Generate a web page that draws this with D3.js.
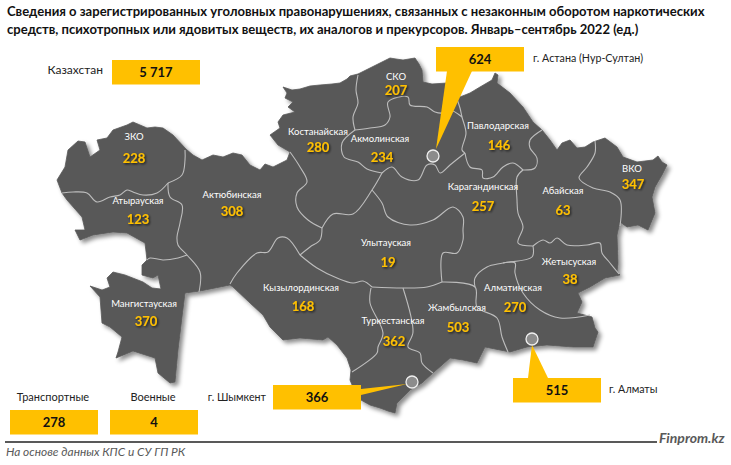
<!DOCTYPE html>
<html><head><meta charset="utf-8">
<script src="https://cdn.jsdelivr.net/npm/d3@7/dist/d3.min.js"></script>
<style>
html,body{margin:0;padding:0;background:#fff}
svg{display:block}
text{font-family:Lato,"Open Sans","Noto Sans",sans-serif}
</style></head><body><svg id="c" width="731" height="465"></svg>
<script>
const titleLines=["Сведения о зарегистрированных уголовных правонарушениях, связанных с незаконным оборотом наркотических","средств, психотропных или ядовитых веществ, их аналогов и прекурсоров. Январь–сентябрь 2022 (ед.)"];
const regionNames=["ЗКО","Атырауская","Актюбинская","Костанайская","СКО","Акмолинская","Павлодарская","Карагандинская","Абайская","ВКО","Жетысуская","Алматинская","Жамбылская","Туркестанская","Улытауская","Кызылординская","Мангистауская"];
const regionValues=[228,123,308,280,207,234,146,257,63,347,38,270,503,362,19,168,370];
const nameAnchors=[[134,137],[138,201],[232,195],[318,132],[396,77],[380,139],[498,126],[483,187],[563,191],[632,169],[569,262],[513,288],[457,308],[393,321],[386,243],[301,288],[144,304]];
const valueAnchors=[[134,158],[138,219],[232,211],[318,147],[396,90],[382,157],[499,145],[483,206],[563,210],[633,184],[570,279],[515,307],[458,327],[394,341],[388,262],[303,306],[146,321]];
const boxNames=["Казахстан","г. Астана (Нур-Султан)","г. Шымкент","г. Алматы","Транспортные","Военные"];
const boxValues=["5 717","624","366","515","278","4"];
const boxOrigins=[[112,60],[436,47],[273,385],[513,378],[10,410],[110,410]];
const boxLabelAnchors=[[103,70,"end"],[533,58,"start"],[266,397,"end"],[609,389,"start"],[53,397,"middle"],[153,397,"middle"]];
const boxLabelSizes=[12,10.7,10.7,10.7,11,11];
const cityPoints=[[433,156],[412,382],[532,339]];
const pointers=[[[447,71],[472,71],[436,149]],[[361,389],[361,395],[407,384]],[[528,378],[548,378],[532,345]]];
const outline=[[283,87],[292,90],[300,89],[310,86],[320,85],[332,84],[340,83],[347,79],[350,76],[358,74],[368,69],[380,63],[390,58],[396,59],[403,60],[415,58],[419,64],[422,70],[423,82],[432,84],[447,83],[452,90],[460,97],[470,93],[480,87],[492,80],[495,73],[498,75],[497,83],[510,93],[523,107],[533,122],[542,130],[550,140],[557,150],[562,143],[570,140],[577,148],[585,147],[593,142],[605,138],[617,147],[623,157],[637,162],[653,160],[658,156],[662,162],[667,165],[662,175],[655,187],[652,197],[655,213],[648,230],[638,225],[627,227],[620,222],[617,235],[618,263],[617,272],[620,275],[605,278],[590,287],[578,293],[582,302],[577,313],[592,317],[595,328],[598,332],[593,347],[573,347],[547,345],[527,347],[510,352],[500,350],[485,347],[477,363],[463,360],[450,358],[433,373],[422,383],[410,390],[397,403],[395,413],[388,411],[380,408],[370,405],[361,400],[355,392],[350,380],[351,370],[347,358],[337,345],[328,337],[323,340],[300,338],[283,340],[270,327],[263,315],[250,303],[233,287],[230,285],[200,291],[185,293],[182,317],[178,350],[175,382],[170,383],[158,373],[155,358],[133,351],[116,358],[118,352],[122,337],[110,327],[102,323],[100,297],[90,286],[102,290],[110,287],[107,278],[113,272],[125,275],[143,282],[152,288],[161,289],[158,275],[153,278],[142,275],[142,265],[147,260],[145,243],[127,233],[113,232],[93,235],[80,240],[75,230],[85,230],[82,217],[67,200],[62,193],[57,180],[65,167],[68,150],[78,141],[85,142],[90,157],[100,150],[97,140],[107,138],[113,130],[127,125],[133,122],[147,128],[155,127],[163,128],[173,135],[186,149],[193,155],[202,160],[213,155],[223,157],[233,153],[242,155],[250,165],[260,170],[265,164],[273,167],[287,160],[290,152],[278,145],[270,135],[280,128],[278,122],[283,115],[295,112],[288,107],[293,102],[285,98],[287,93]];
const borders=[
[[62,193],[73,192],[87,193],[97,202],[110,197],[120,195],[127,190],[133,192],[143,195],[157,193],[168,183]],
[[168,183],[182,175],[185,160],[185,150]],
[[168,183],[170,197],[182,205],[180,223],[177,237],[178,245],[187,255],[200,272],[199,292]],
[[147,260],[150,258],[163,260],[178,258],[187,255]],
[[230,284],[237,273],[257,253],[268,252],[278,238],[287,238],[300,255]],
[[300,255],[310,247],[320,240],[322,228]],
[[300,255],[317,268],[337,278],[353,283],[363,281],[372,287]],
[[372,287],[403,288],[427,287],[442,282]],
[[442,282],[443,253],[457,253],[463,240],[463,230],[463,217],[453,207],[433,220],[410,225],[388,217],[382,203],[372,190]],
[[442,282],[475,287],[477,307],[497,318],[502,337],[508,352]],
[[475,287],[475,278],[487,267],[503,263],[532,257],[533,246]],
[[503,263],[515,263],[515,273],[523,293],[540,310],[560,318],[590,315]],
[[533,246],[543,240],[550,243],[557,238],[567,245],[587,245],[600,243],[602,253],[610,263],[619,274]],
[[595,141],[595,153],[587,167],[579,178],[593,188],[610,192],[620,200],[620,226]],
[[542,130],[530,140],[530,148],[537,158],[535,168],[523,170]],
[[523,170],[517,177],[517,200],[518,213],[523,227],[518,243],[533,246]],
[[523,170],[513,163],[503,167],[493,177],[483,178],[482,170],[470,167],[465,153]],
[[465,153],[462,150],[466,133],[462,117],[460,108],[457,99]],
[[355,130],[370,128],[385,125],[390,117],[388,102],[408,97],[410,105],[427,107],[435,112],[443,113],[450,110],[462,117]],
[[355,130],[342,143],[344,157],[358,162],[367,169],[382,173]],
[[355,130],[353,117],[358,103],[356,90],[358,75]],
[[382,173],[392,167],[402,177],[418,180],[427,165],[435,165],[440,173],[450,165],[465,153]],
[[382,173],[372,190],[353,214],[333,214],[322,228]],
[[290,152],[300,167],[307,182],[297,193],[297,207],[308,220],[322,228]],
[[371,288],[370,303],[383,333],[378,347],[377,353],[352,372]],
[[403,288],[413,332],[408,347],[420,353],[422,363],[433,373]]
];
const sourceText="На основе данных КПС и СУ ГП РК";
const brandText="Finprom.kz";

const svg=d3.select("#c");
const defs=svg.append("defs");
const f=defs.append("filter").attr("id","ms").attr("x","-10%").attr("y","-10%").attr("width","120%").attr("height","120%");
f.append("feDropShadow").attr("dx",3).attr("dy",3).attr("stdDeviation",2.2).attr("flood-color","#000").attr("flood-opacity",.45);
const g=defs.append("filter").attr("id","ts").attr("x","-20%").attr("y","-30%").attr("width","150%").attr("height","170%");
g.append("feDropShadow").attr("dx",1.2).attr("dy",1.2).attr("stdDeviation",.9).attr("flood-color","#000").attr("flood-opacity",.75);

const x=d3.scaleIdentity(), y=d3.scaleIdentity();
const areaLine=d3.line().x(d=>x(d[0])).y(d=>y(d[1])).curve(d3.curveLinearClosed);
const borderLine=d3.line().x(d=>x(d[0])).y(d=>y(d[1])).curve(d3.curveCatmullRom.alpha(.5));

svg.append("path").datum(outline).attr("d",areaLine).attr("fill","#595959").attr("stroke","#595959").attr("stroke-width",.8).attr("stroke-linejoin","round").attr("filter","url(#ms)");
svg.append("g").selectAll("path").data(borders).join("path").attr("d",borderLine).attr("fill","none").attr("stroke","#bdbdbd").attr("stroke-width",1.1).attr("stroke-linejoin","round");

svg.append("g").selectAll("text").data(titleLines).join("text")
 .attr("x",7).attr("y",(d,i)=>16+i*17.5).attr("font-size",13.05).attr("font-weight",700).attr("fill","#111").text(d=>d);

svg.append("g").selectAll("text").data(regionNames).join("text")
 .attr("x",(d,i)=>nameAnchors[i][0]).attr("y",(d,i)=>nameAnchors[i][1]).attr("dy","0.35em")
 .attr("text-anchor","middle").attr("font-size",9.5).attr("fill","#fff").text(d=>d);
svg.append("g").selectAll("text").data(regionValues).join("text")
 .attr("x",(d,i)=>valueAnchors[i][0]).attr("y",(d,i)=>valueAnchors[i][1]).attr("dy","0.35em")
 .attr("text-anchor","middle").attr("font-size",13).attr("font-weight",700).attr("fill","#ffc000").attr("filter","url(#ts)").text(d=>d);

svg.append("g").selectAll("polygon").data(pointers).join("polygon").attr("points",d=>d.join(" ")).attr("fill","#ffc000");
svg.append("g").selectAll("circle").data(cityPoints).join("circle")
 .attr("cx",d=>x(d[0])).attr("cy",d=>y(d[1])).attr("r",6).attr("fill","#8c8c8c").attr("stroke","#f0f0f0").attr("stroke-width",1.3);

const bw=88,bh=24.5;
const boxes=svg.append("g").selectAll("g").data(boxValues).join("g").attr("transform",(d,i)=>`translate(${boxOrigins[i]})`);
boxes.append("rect").attr("width",bw).attr("height",bh).attr("fill","#ffc000");
boxes.append("text").attr("x",bw/2).attr("y",bh/2).attr("dy","0.36em").attr("text-anchor","middle").attr("font-size",13).attr("font-weight",700).attr("fill","#111").text(d=>d);
svg.append("g").selectAll("text").data(boxNames).join("text")
 .attr("x",(d,i)=>boxLabelAnchors[i][0]).attr("y",(d,i)=>boxLabelAnchors[i][1]).attr("dy","0.35em")
 .attr("text-anchor",(d,i)=>boxLabelAnchors[i][2]).attr("font-size",(d,i)=>boxLabelSizes[i]).attr("fill","#222").text(d=>d);

svg.append("line").attr("x1",5).attr("x2",657).attr("y1",442).attr("y2",442).attr("stroke","#595959").attr("stroke-width",2);
svg.append("text").attr("x",6).attr("y",456).attr("font-size",11.9).attr("font-style","italic").attr("fill","#595959").text(sourceText);
svg.append("text").attr("x",659).attr("y",443).attr("font-size",14).attr("font-style","italic").attr("font-weight",700).attr("fill","#595959").text(brandText);
</script></body></html>
